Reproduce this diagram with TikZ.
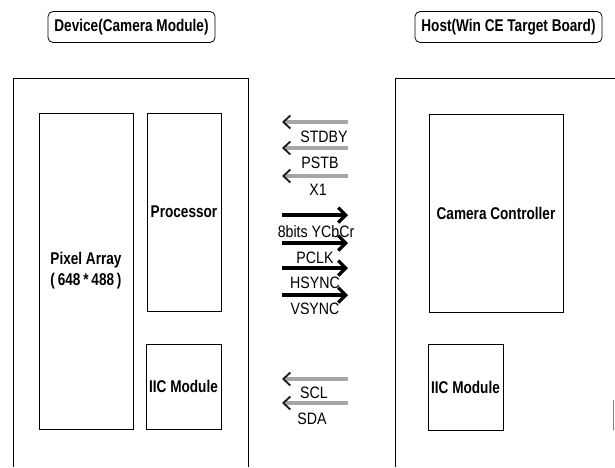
\documentclass[tikz,border=0pt]{standalone}
\usepackage{fontspec}
\newfontfamily\boxfont[FakeStretch=0.8]{Liberation Sans}
\newfontfamily\sigfont[FakeStretch=0.86]{Liberation Sans}
\usetikzlibrary{arrows.meta}
\begin{document}
\begin{tikzpicture}[x=1pt,y=-1pt,
  blk/.style={draw, line width=0.8pt, inner sep=0pt, align=center,
    font=\boxfont\bfseries\fontsize{17}{21}\selectfont},
  titlebox/.style={blk, rounded corners=5pt},
  sig/.style={inner sep=0pt, font=\sigfont\fontsize{16.5}{19}\selectfont},
  outline/.style={line width=0.8pt},
  inarr/.style={line width=3.2pt, draw=gray!70,
    -{Straight Barb[length=7pt,width=13pt,line width=1.8pt,color=black!90]}},
  outarr/.style={line width=3.2pt, draw=black,
    -{Straight Barb[length=7.5pt,width=15pt]}}]
\useasboundingbox (0,0) rectangle (615,467);
\fill[white] (0,0) rectangle (615,467);

% titles
\node[titlebox, minimum width=167pt, minimum height=31pt] (tdev) at (131.5,27) {Device(Camera Module)};
\node[titlebox, minimum width=187pt, minimum height=31pt] (thost) at (508.5,27) {Host(Win CE Target Board)};

% outer frames (open at the bottom)
\draw[outline] (13,467) -- (13,78) -- (248,78) -- (248,467);
\draw[outline] (395,467) -- (395,78) -- (615,78);
\draw[line width=0.6pt, gray] (613,400) -- (613,430);

% device blocks
\node[blk, minimum width=94pt, minimum height=316pt] (pix) at (86,271) {Pixel Array\\(\,648\,*\,488\,)};
\node[blk, minimum width=74pt, minimum height=198pt] (proc) at (184,212) {Processor};
\node[blk, minimum width=75pt, minimum height=85pt] (iicd) at (183.5,386.5) {IIC Module};

% host blocks
\node[blk, minimum width=134pt, minimum height=198pt] (cam) at (496,213) {Camera Controller};
\node[blk, minimum width=75pt, minimum height=86pt] (iich) at (465.5,387) {IIC Module};

% arrow end points
\coordinate (i1s) at (348,122); \coordinate (i1e) at (282,122);
\coordinate (i2s) at (348,148); \coordinate (i2e) at (282,148);
\coordinate (i3s) at (348,176); \coordinate (i3e) at (282,176);
\coordinate (o1s) at (282,215); \coordinate (o1e) at (348,215);
\coordinate (o2s) at (282,243); \coordinate (o2e) at (348,243);
\coordinate (o3s) at (282,268); \coordinate (o3e) at (348,268);
\coordinate (o4s) at (282,295); \coordinate (o4e) at (348,295);
\coordinate (c1s) at (348,379); \coordinate (c1e) at (282,379);
\coordinate (c2s) at (348,403); \coordinate (c2e) at (282,403);

\draw[inarr] (i1s) -- (i1e);
\draw[inarr] (i2s) -- (i2e);
\draw[inarr] (i3s) -- (i3e);
\draw[outarr] (o1s) -- (o1e);
\draw[outarr] (o2s) -- (o2e);
\draw[outarr] (o3s) -- (o3e);
\draw[outarr] (o4s) -- (o4e);
\draw[inarr] (c1s) -- (c1e);
\draw[inarr] (c2s) -- (c2e);

% signal labels
\node[sig] (lstdby) at (324,137) {STDBY};
\node[sig] (lpstb) at (320,163) {PSTB};
\node[sig] (lx1) at (318,190) {X1};
\node[sig] (lyc) at (316,232) {8bits YCbCr};
\node[sig] (lpclk) at (315,258) {PCLK};
\node[sig] (lhs) at (315,283) {HSYNC};
\node[sig] (lvs) at (315,309) {VSYNC};
\node[sig] (lscl) at (314,393) {SCL};
\node[sig] (lsda) at (312,419) {SDA};
\end{tikzpicture}
\end{document}
